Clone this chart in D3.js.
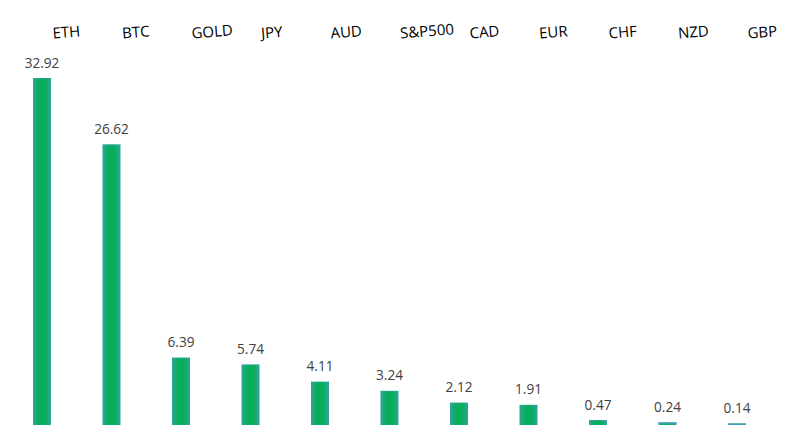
<!DOCTYPE html>
<html><head><meta charset="utf-8">
<script src="https://cdn.jsdelivr.net/npm/d3@7"></script>
<style>html,body{margin:0;padding:0;background:#fff;}svg{display:block;}</style>
</head><body>
<script>
const categories = ["ETH","BTC","GOLD","JPY","AUD","S&P500","CAD","EUR","CHF","NZD","GBP"];
const values = [32.92,26.62,6.39,5.74,4.11,3.24,2.12,1.91,0.47,0.24,0.14];
const valueLabels = ["32.92","26.62","6.39","5.74","4.11","3.24","2.12","1.91","0.47","0.24","0.14"];

const W = 801, H = 438;
const svg = d3.select("body").append("svg").attr("width", W).attr("height", H);

const defs = svg.append("defs");
const grad = defs.append("linearGradient").attr("id","barGrad").attr("x1","0").attr("x2","1").attr("y1","0").attr("y2","0");
grad.append("stop").attr("offset","0%").attr("stop-color","#2fa49c");
grad.append("stop").attr("offset","35%").attr("stop-color","#06ae58");
grad.append("stop").attr("offset","65%").attr("stop-color","#06ae58");
grad.append("stop").attr("offset","100%").attr("stop-color","#2fa49c");

const x = d3.scaleBand().domain(categories).range([7.25, 771.75]).paddingInner(0.741).paddingOuter(0.3705);
const y = d3.scaleLinear().domain([0, 32.92]).range([425, 78]);

const data = categories.map((c,i)=>({c, v:values[i], l:valueLabels[i]}));

svg.selectAll("rect.bar").data(data).enter().append("rect")
  .attr("class","bar")
  .attr("x", d=>x(d.c))
  .attr("width", x.bandwidth())
  .attr("y", d=>y(d.v))
  .attr("height", d=>y(0)-y(d.v))
  .attr("fill","url(#barGrad)");

svg.selectAll("rect.edge").data(data).enter().append("rect")
  .attr("class","edge")
  .attr("x", d=>x(d.c))
  .attr("width", x.bandwidth())
  .attr("y", d=>y(d.v))
  .attr("height", d=>Math.min(1.5, y(0)-y(d.v)))
  .attr("fill","#3b9fba").attr("opacity", d=> (y(0)-y(d.v))<4 ? 1 : 0.35);

svg.selectAll("text.val").data(data).enter().append("text")
  .attr("class","val")
  .attr("x", d=>x(d.c)+x.bandwidth()/2)
  .attr("y", d=>y(d.v)-10.5)
  .attr("text-anchor","middle")
  .attr("font-family","'Open Sans', 'Noto Sans', sans-serif")
  .attr("font-size", 13.6)
  .attr("fill","#404040")
  .text(d=>d.l);

svg.selectAll("text.cat").data(data).enter().append("text")
  .attr("class","cat")
  .attr("transform", d=>{const cx = x(d.c)+x.bandwidth()/2+11; return `translate(${cx},38.5) rotate(-4.5)`;})
  .attr("text-anchor","start")
  .attr("font-family","'Open Sans', 'Noto Sans', sans-serif")
  .attr("font-size", 15)
  .attr("fill","#000")
  .text(d=>d.c);
</script>
</body></html>
